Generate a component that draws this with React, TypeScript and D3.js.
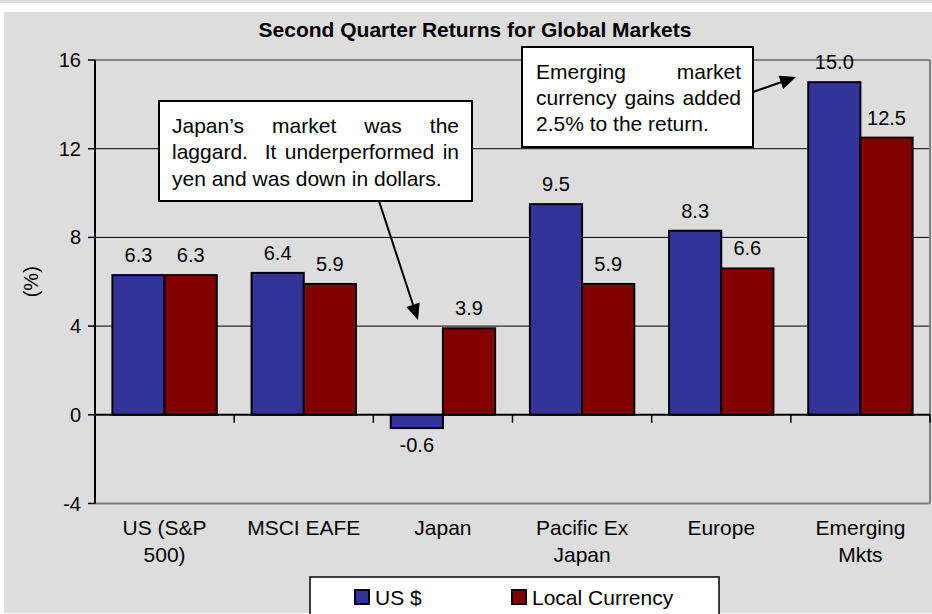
import React, { useMemo } from "react";
import * as d3 from "d3";

const categories = ["US (S&P 500)", "MSCI EAFE", "Japan", "Pacific Ex Japan", "Europe", "Emerging Mkts"];
const categoryLines = [["US (S&P", "500)"], ["MSCI EAFE"], ["Japan"], ["Pacific Ex", "Japan"], ["Europe"], ["Emerging", "Mkts"]];
const usDollar = [6.3, 6.4, -0.6, 9.5, 8.3, 15.0];
const localCurrency = [6.3, 5.9, 3.9, 5.9, 6.6, 12.5];
const yTicks = [-4, 0, 4, 8, 12, 16];
const seriesNames = ["US $", "Local Currency"];
const title = "Second Quarter Returns for Global Markets";
const note1 = ["Japan\u2019s market was the", "laggard.  It underperformed in", "yen and was down in dollars."];
const note2 = ["Emerging market", "currency gains added", "2.5% to the return."];

const FONT = "'Liberation Sans', Arial, Helvetica, sans-serif";
const BLUE = "#333399";
const RED = "#800000";
const BG = "#dddddd";

function measure(text: string, size: number): number {
  const c = document.createElement("canvas").getContext("2d");
  if (!c) return text.length * size * 0.5;
  c.font = `${size}px ${FONT}`;
  return c.measureText(text).width;
}

function Justified({ lines, x, y, width, size, lh }: { lines: string[]; x: number; y: number; width: number; size: number; lh: number }) {
  const items = useMemo(() => {
    const out: { t: string; x: number; y: number }[] = [];
    lines.forEach((line, li) => {
      const by = y + li * lh;
      if (li === lines.length - 1) {
        out.push({ t: line, x, y: by });
        return;
      }
      const words = line.split(" ");
      const ws = words.map((w) => measure(w, size));
      const total = ws.reduce((a, b) => a + b, 0);
      const gap = (width - total) / (words.length - 1);
      let cx = x;
      words.forEach((w, i) => {
        if (w) out.push({ t: w, x: cx, y: by });
        cx += ws[i] + gap;
      });
    });
    return out;
  }, [lines, x, y, width, size, lh]);
  return (
    <g fontFamily={FONT} fontSize={size} fill="#000">
      {items.map((it, i) => (
        <text key={i} x={it.x} y={it.y}>{it.t}</text>
      ))}
    </g>
  );
}

function Arrow({ x1, y1, x2, y2 }: { x1: number; y1: number; x2: number; y2: number }) {
  const a = Math.atan2(y2 - y1, x2 - x1);
  const L = 16, W = 7;
  const bx = x2 - L * Math.cos(a), by = y2 - L * Math.sin(a);
  const px = -Math.sin(a), py = Math.cos(a);
  const pts = [[x2, y2], [bx + W * px, by + W * py], [bx - W * px, by - W * py]].map((p) => p.join(",")).join(" ");
  return (
    <g>
      <line x1={x1} y1={y1} x2={bx} y2={by} stroke="#000" strokeWidth={2} />
      <polygon points={pts} fill="#000" />
    </g>
  );
}

export default function App() {
  const left = 95, right = 930, top = 60, bottom = 503.5;
  const x = d3.scaleBand<string>().domain(categories).range([left, right]).paddingInner(0.25).paddingOuter(0.125);
  const y = d3.scaleLinear().domain([-4, 16]).range([bottom, top]);
  const bw = x.bandwidth() / 2;
  const step = x.step();
  const y0 = y(0);
  const series = [usDollar, localCurrency];
  const colors = [BLUE, RED];
  const boundaries = d3.range(categories.length + 1).map((i) => left + i * step);

  return (
    <svg width={932} height={614} style={{ position: "absolute", left: 0, top: 0 }} fontFamily={FONT}>
      <rect x={0} y={0} width={932} height={614} fill="#fff" />
      <rect x={0} y={0} width={932} height={3} fill={BG} />
      <rect x={4} y={12} width={928} height={601} fill={BG} />
      <text x={475} y={37} textAnchor="middle" fontSize={21} fontWeight="bold">{title}</text>

      {yTicks.filter((t) => t > 0 && t < 16).map((t) => (
        <line key={t} x1={left} x2={right} y1={y(t)} y2={y(t)} stroke="#000" strokeWidth={1} />
      ))}
      <line x1={left} x2={right} y1={y(16)} y2={y(16)} stroke="#808080" strokeWidth={2} />
      <line x1={left} x2={right} y1={y(-4)} y2={y(-4)} stroke="#808080" strokeWidth={2} />
      <line x1={right} x2={right} y1={top} y2={bottom} stroke="#808080" strokeWidth={2} />

      {series.map((s, si) =>
        s.map((v, i) => {
          const bx = (x(categories[i]) as number) + si * bw;
          const yt = Math.min(y(v), y0), h = Math.abs(y(v) - y0);
          return <rect key={`${si}-${i}`} x={bx} y={yt} width={bw} height={h} fill={colors[si]} stroke="#000" strokeWidth={2} />;
        })
      )}
      {series.map((s, si) =>
        s.map((v, i) => {
          const cx = (x(categories[i]) as number) + si * bw + bw / 2;
          const ly = v >= 0 ? y(v) - 13 : y(v) + 24;
          return <text key={`l${si}-${i}`} x={cx} y={ly} textAnchor="middle" fontSize={20}>{v.toFixed(1)}</text>;
        })
      )}

      <line x1={left} x2={left} y1={top} y2={bottom} stroke="#000" strokeWidth={2} />
      <line x1={left} x2={right} y1={y0} y2={y0} stroke="#000" strokeWidth={2} />
      {yTicks.map((t) => (
        <g key={t}>
          <line x1={left - 7} x2={left} y1={y(t)} y2={y(t)} stroke="#000" strokeWidth={1.5} />
          <text x={left - 14} y={y(t) + 7} textAnchor="end" fontSize={20}>{t}</text>
        </g>
      ))}
      {boundaries.map((b, i) => (
        <line key={i} x1={b} x2={b} y1={y0} y2={y0 + 8} stroke="#000" strokeWidth={1.5} />
      ))}
      {categoryLines.map((ls, i) => (
        <text key={i} x={(x(categories[i]) as number) + bw} y={535} textAnchor="middle" fontSize={21}>
          {ls.map((l, j) => (
            <tspan key={j} x={(x(categories[i]) as number) + bw} dy={j === 0 ? 0 : 27}>{l}</tspan>
          ))}
        </text>
      ))}
      <text transform={`translate(38,${(top + bottom) / 2}) rotate(-90)`} textAnchor="middle" fontSize={20}>(%)</text>

      <rect x={159} y={101} width={313} height={100} fill="#fff" stroke="#000" strokeWidth={2} />
      <Justified lines={note1} x={172} y={132.5} width={287} size={21} lh={26.7} />
      <Arrow x1={379} y1={201} x2={418} y2={320} />
      <rect x={522} y={47} width={231} height={100} fill="#fff" stroke="#000" strokeWidth={2} />
      <Justified lines={note2} x={536} y={79} width={205} size={21} lh={26.2} />
      <Arrow x1={753} y1={92} x2={796} y2={77} />

      <rect x={310} y={577} width={409} height={50} fill="#fff" stroke="#000" strokeWidth={1.5} />
      {seriesNames.map((n, i) => {
        const lx = i === 0 ? 355 : 512;
        return (
          <g key={n}>
            <rect x={lx} y={590} width={14} height={14} fill={colors[i]} stroke="#000" strokeWidth={2} />
            <text x={lx + 20} y={605} fontSize={21}>{n}</text>
          </g>
        );
      })}
    </svg>
  );
}
